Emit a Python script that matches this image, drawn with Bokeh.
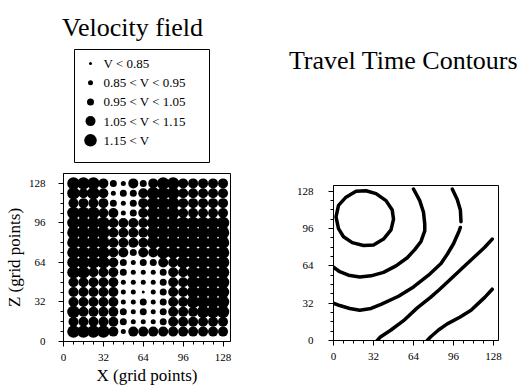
from bokeh.plotting import figure
from bokeh.models import Range1d, FixedTicker
from bokeh.layouts import row, column
from bokeh.embed import file_html
from bokeh.resources import INLINE
from bokeh.core.properties import value

SERIF = "Liberation Serif"

# ---------------- data ----------------
grid_x = [8, 16, 24, 32, 40, 48, 56, 64, 72, 80, 88, 96, 104, 112, 120, 128]
grid_z = [128, 120, 112, 104, 96, 88, 80, 72, 64, 56, 48, 40, 32, 24, 16, 8]

# velocity class per grid node (0: V<0.85 ... 4: 1.15<V), rows top (z=128) to bottom (z=8)
vel_class = [
    [4, 4, 4, 3, 2, 1, 3, 2, 3, 4, 4, 3, 3, 3, 3, 3],
    [4, 3, 4, 3, 1, 2, 2, 3, 4, 4, 4, 3, 3, 3, 3, 3],
    [3, 3, 3, 3, 2, 1, 2, 3, 4, 4, 4, 3, 3, 3, 3, 3],
    [4, 4, 4, 3, 3, 1, 2, 3, 4, 4, 4, 3, 3, 3, 3, 3],
    [4, 4, 4, 4, 3, 3, 3, 3, 4, 4, 4, 4, 4, 4, 4, 4],
    [4, 4, 4, 4, 3, 3, 3, 3, 4, 4, 4, 4, 4, 4, 4, 4],
    [4, 4, 4, 4, 3, 3, 3, 3, 4, 4, 4, 4, 4, 4, 4, 4],
    [4, 4, 4, 4, 3, 3, 2, 3, 3, 4, 4, 4, 4, 4, 4, 4],
    [4, 4, 4, 4, 3, 2, 1, 2, 2, 3, 3, 4, 4, 4, 4, 4],
    [4, 4, 3, 3, 3, 2, 1, 1, 1, 2, 3, 3, 4, 4, 4, 4],
    [3, 3, 3, 3, 3, 1, 1, 1, 1, 2, 3, 3, 4, 4, 4, 4],
    [3, 3, 3, 3, 3, 1, 1, 0, 1, 2, 3, 3, 4, 4, 4, 4],
    [3, 3, 3, 3, 3, 1, 1, 2, 1, 2, 3, 3, 4, 4, 4, 4],
    [4, 3, 3, 3, 3, 2, 1, 2, 1, 2, 3, 3, 3, 4, 4, 4],
    [3, 3, 3, 3, 3, 2, 1, 1, 1, 2, 3, 3, 3, 3, 3, 3],
    [4, 4, 4, 4, 3, 1, 3, 3, 3, 3, 3, 3, 3, 3, 3, 3],
]

legend_labels = ["V < 0.85", "0.85 < V < 0.95", "0.95 < V < 1.05",
                 "1.05 < V < 1.15", "1.15 < V"]

major_ticks = [0, 32, 64, 96, 128]
minor_ticks = [0, 8, 16, 24, 32, 40, 48, 56, 64, 72, 80, 88, 96, 104, 112, 120, 128]

# travel time contours (x, z)
contour1_x = [2, 4, 10, 18, 26, 34, 42, 47, 48, 46, 40, 32, 24, 15, 8, 4, 2]
contour1_z = [106, 116, 123, 128, 128.5, 126, 120, 112, 104, 95, 87, 82, 81.5, 84, 89, 96, 106]
contour2_x = [64, 69, 72, 73, 73, 70, 65, 59, 50, 40, 30, 21, 12, 5, 0]
contour2_z = [130, 120, 110, 100, 94, 85, 78, 71, 64, 58.5, 55.5, 54.5, 56, 59, 63]
contour3a_x = [95, 99, 101.5, 102]
contour3a_z = [130, 121, 112, 102]
contour3b_x = [101.5, 100.5, 96, 91, 86, 76, 64, 52, 38, 30, 21, 13, 5, 0]
contour3b_z = [97, 94, 83, 74, 66, 56, 46, 38, 31, 27.5, 26, 27.5, 30, 32]
contour4_x = [127, 121, 115, 104, 94, 85, 77.6, 67, 56, 46, 37.5, 35]
contour4_z = [87, 80, 74, 63, 53, 44, 37, 28, 17, 9, 3, 0]
contour5_x = [127, 121, 115, 110, 101, 91, 84, 77.6, 75]
contour5_z = [44, 37, 31, 26, 20, 14.3, 9, 3, 0]

# ---------------- styles ----------------
class_sizes = [3, 5, 7, 10, 12.5]


def style_axes(p, tick_standoff_y):
    for ax in (p.xaxis[0], p.yaxis[0]):
        ax.ticker = FixedTicker(ticks=major_ticks, minor_ticks=minor_ticks)
        ax.major_tick_out = 5
        ax.major_tick_in = 0
        ax.minor_tick_out = 3
        ax.minor_tick_in = 0
        ax.axis_line_color = "black"
        ax.major_tick_line_color = "black"
        ax.minor_tick_line_color = "black"
        ax.major_label_text_font = SERIF
        ax.major_label_text_font_size = "11px"
        ax.major_label_text_color = "black"
    p.xaxis.major_label_standoff = 7
    p.yaxis.major_label_standoff = tick_standoff_y
    p.grid.visible = False
    p.outline_line_color = "black"
    p.outline_line_width = 1
    p.outline_line_alpha = 1
    p.background_fill_color = "white"
    p.border_fill_color = "white"


# ---------------- top panel: titles + legend (pixel coordinates) ----------------
top = figure(width=521, height=165, x_range=Range1d(0, 521), y_range=Range1d(165, 0),
             x_axis_type=None, y_axis_type=None, min_border=0,
             toolbar_location=None, output_backend="svg")
top.grid.visible = False
top.outline_line_color = None
top.background_fill_color = "white"
top.border_fill_color = "white"

top.text(x=[132, 403], y=[27, 60], text=["Velocity field", "Travel Time Contours"],
         text_font=value(SERIF), text_font_size="26px", text_align="center",
         text_baseline="alphabetic", text_color="black")
top.quad(left=[74], right=[209], top=[49], bottom=[162],
         fill_color=None, line_color="black", line_width=1)
leg_y = [63 + 19.2 * i for i in range(len(legend_labels))]
top.scatter(x=[90] * len(legend_labels), y=leg_y, size=class_sizes,
            fill_color="black", line_color=None)
top.text(x=[103] * len(legend_labels), y=leg_y, text=legend_labels,
         text_font=value(SERIF), text_font_size="13px", text_baseline="middle",
         text_color="black")

# ---------------- velocity field ----------------
vx, vz, vs = [], [], []
for r, z in enumerate(grid_z):
    for c, x in enumerate(grid_x):
        vx.append(x)
        vz.append(z)
        vs.append(class_sizes[vel_class[r][c]])

left = figure(width=250, height=223, frame_width=167, frame_height=168,
              x_range=Range1d(0, 134), y_range=Range1d(0, 136),
              min_border_left=63, min_border_right=20, min_border_top=8, min_border_bottom=47,
              toolbar_location=None, output_backend="svg")
left.scatter(x=vx, y=vz, size=vs, fill_color="black", line_color=None)
style_axes(left, 13)
left.yaxis.axis_label = "Z (grid points)"
left.xaxis.axis_label = "X (grid points)"
for ax in (left.xaxis[0], left.yaxis[0]):
    ax.axis_label_text_font = SERIF
    ax.axis_label_text_font_size = "17px"
    ax.axis_label_text_font_style = "normal"
    ax.axis_label_text_color = "black"
left.yaxis.axis_label_standoff = 2
left.xaxis.axis_label_standoff = 2

# ---------------- travel time contours ----------------
right = figure(width=271, height=223, frame_width=165, frame_height=155,
               x_range=Range1d(0, 132), y_range=Range1d(0, 133),
               min_border_left=83, min_border_right=23, min_border_top=20, min_border_bottom=48,
               toolbar_location=None, output_backend="svg")
right.multi_line(xs=[contour1_x, contour2_x, contour3a_x, contour3b_x, contour4_x, contour5_x],
                 ys=[contour1_z, contour2_z, contour3a_z, contour3b_z, contour4_z, contour5_z],
                 line_color="black", line_width=3.5, line_cap="round", line_join="round")
style_axes(right, 15)

layout = column(top, row(column(left), column(right)))
open("out.html", "w").write(file_html(layout, INLINE))
